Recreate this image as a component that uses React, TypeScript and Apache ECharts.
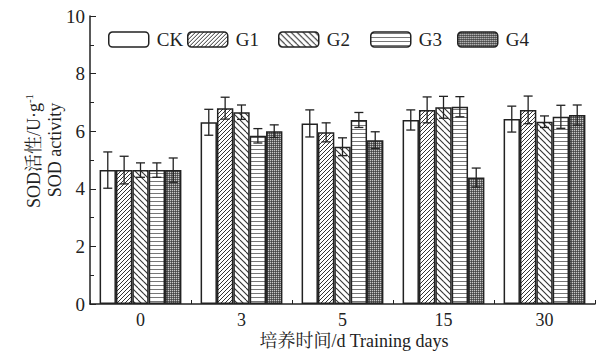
import React, { useEffect, useRef } from "react";
import * as echarts from "echarts";

const categories = ["0", "3", "5", "15", "30"];
const seriesNames = ["CK", "G1", "G2", "G3", "G4"];
const ckValues = [4.65, 6.31, 6.27, 6.39, 6.42];
const g1Values = [4.65, 6.8, 5.96, 6.74, 6.74];
const g2Values = [4.65, 6.66, 5.46, 6.83, 6.33];
const g3Values = [4.65, 5.84, 6.39, 6.85, 6.5];
const g4Values = [4.65, 6.0, 5.69, 4.39, 6.56];
const ckErr = [0.63, 0.45, 0.47, 0.35, 0.45];
const g1Err = [0.48, 0.38, 0.33, 0.45, 0.48];
const g2Err = [0.25, 0.25, 0.31, 0.38, 0.2];
const g3Err = [0.25, 0.25, 0.26, 0.35, 0.4];
const g4Err = [0.42, 0.22, 0.29, 0.33, 0.35];
const yTicks = [0, 2, 4, 6, 8, 10];

const FONT = "'Liberation Serif', 'Times New Roman', 'Noto Serif CJK SC', 'Noto Sans CJK SC', serif";
const INK = "#222";
const CAT_GAP = 0.19;

const values = [ckValues, g1Values, g2Values, g3Values, g4Values];
const errors = [ckErr, g1Err, g2Err, g3Err, g4Err];

function makePattern(w: number, h: number, draw: (ctx: CanvasRenderingContext2D) => void): any {
  const c = document.createElement("canvas");
  c.width = w;
  c.height = h;
  const ctx = c.getContext("2d")!;
  ctx.fillStyle = "#fff";
  ctx.fillRect(0, 0, w, h);
  draw(ctx);
  return { image: c.toDataURL(), repeat: "repeat", imageWidth: w, imageHeight: h };
}

function buildFills(): any[] {
  const g1 = makePattern(8, 8, (ctx) => {
    ctx.strokeStyle = "#333";
    ctx.lineWidth = 1;
    for (let x = -8; x <= 8; x += 4) {
      ctx.beginPath();
      ctx.moveTo(x, 8);
      ctx.lineTo(x + 8, 0);
      ctx.stroke();
    }
  });
  const g2 = makePattern(12, 12, (ctx) => {
    ctx.strokeStyle = "#333";
    ctx.lineWidth = 1.1;
    for (let x = -12; x <= 12; x += 6) {
      ctx.beginPath();
      ctx.moveTo(x, 0);
      ctx.lineTo(x + 12, 12);
      ctx.stroke();
    }
  });
  const g3 = makePattern(4, 4, (ctx) => {
    ctx.fillStyle = "#777";
    ctx.fillRect(0, 1, 4, 1);
  });
  const g4 = makePattern(2, 2, (ctx) => {
    ctx.fillStyle = "#666";
    ctx.fillRect(0, 0, 2, 2);
    ctx.fillStyle = "#c8c8c8";
    ctx.fillRect(0, 0, 1, 1);
    ctx.fillStyle = "#444";
    ctx.fillRect(1, 1, 1, 1);
  });
  return ["#fff", g1, g2, g3, g4];
}

const legendLefts = [108, 187, 278, 370, 457];

export default function App() {
  const ref = useRef<HTMLDivElement>(null);
  useEffect(() => {
    if (!ref.current) return;
    const chart = echarts.init(ref.current, null, { renderer: "svg" });
    const fills = buildFills();
    const n = seriesNames.length;
    const barSeries = seriesNames.map((name, i) => ({
      type: "bar",
      name,
      data: values[i],
      barGap: "0%",
      barCategoryGap: CAT_GAP * 100 + "%",
      itemStyle: {
        color: fills[i],
        borderColor: INK,
        borderWidth: 1.5,
      },
      z: 2,
    }));
    const errSeries = seriesNames.map((name, i) => ({
      type: "custom",
      name: name + "-err",
      data: values[i].map((v, k) => [k, v, errors[i][k]]),
      z: 5,
      renderItem: (params: any, api: any) => {
        const x = api.value(0);
        const v = api.value(1);
        const e = api.value(2);
        const bw = api.size([1, 0])[0];
        const barW = (bw * (1 - CAT_GAP)) / n;
        const c = api.coord([x, v]);
        const cx = c[0] + (i - (n - 1) / 2) * barW;
        const top = api.coord([x, v + e])[1];
        const bot = api.coord([x, v - e])[1];
        const cap = 4.5;
        const st = { stroke: INK, lineWidth: 1.3 };
        return {
          type: "group",
          children: [
            { type: "line", shape: { x1: cx, y1: top, x2: cx, y2: bot }, style: st },
            { type: "line", shape: { x1: cx - cap, y1: top, x2: cx + cap, y2: top }, style: st },
            { type: "line", shape: { x1: cx - cap, y1: bot, x2: cx + cap, y2: bot }, style: st },
          ],
        };
      },
    }));
    chart.setOption({
      animation: false,
      backgroundColor: "#fff",
      textStyle: { fontFamily: FONT },
      legend: seriesNames.map((name, i) => ({
        data: [name],
        left: legendLefts[i],
        top: 30,
        padding: 0,
        itemWidth: 40,
        itemHeight: 15,
        selectedMode: false,
        itemStyle: { borderColor: INK, borderWidth: 1.5 },
        textStyle: { fontFamily: FONT, fontSize: 19, color: INK, padding: [0, 0, 0, 3] },
      })),
      grid: { left: 90, right: 5, top: 16, bottom: 50, containLabel: false },
      xAxis: {
        type: "category",
        data: categories,
        axisLine: { lineStyle: { color: INK, width: 1.5 } },
        axisTick: { show: true, inside: true, length: 4, lineStyle: { color: INK } },
        axisLabel: { fontFamily: FONT, fontSize: 18, color: INK, margin: 7 },
      },
      yAxis: {
        type: "value",
        min: yTicks[0],
        max: yTicks[yTicks.length - 1],
        interval: 2,
        axisLine: { show: true, lineStyle: { color: INK, width: 1.5 } },
        axisTick: { show: true, inside: true, length: 6, lineStyle: { color: INK } },
        minorTick: { show: true, splitNumber: 2, length: 4, lineStyle: { color: INK } },
        splitLine: { show: false },
        axisLabel: { fontFamily: FONT, fontSize: 19, color: INK, margin: 5 },
      },
      graphic: [
        {
          type: "text",
          x: 34,
          y: 151,
          rotation: Math.PI / 2,
          style: {
            text: "SOD活性/U·g{sup|-1}",
            font: "18px " + FONT,
            fill: INK,
            align: "center",
            verticalAlign: "middle",
            rich: { sup: { fontSize: 11, fontFamily: FONT, fill: INK, verticalAlign: "top", padding: [0, 0, 10, 0] } },
          },
        },
        {
          type: "text",
          x: 55,
          y: 150,
          rotation: Math.PI / 2,
          style: {
            text: "SOD activity",
            font: "18px " + FONT,
            fill: INK,
            align: "center",
            verticalAlign: "middle",
          },
        },
        {
          type: "text",
          x: 354,
          y: 341,
          style: {
            text: "培养时间/d Training days",
            font: "18px " + FONT,
            fill: INK,
            align: "center",
            verticalAlign: "middle",
          },
        },
      ],
      series: [...barSeries, ...errSeries],
    });
    return () => chart.dispose();
  }, []);
  return <div ref={ref} style={{ position: "absolute", left: 0, top: 0, width: 600, height: 354 }} />;
}
